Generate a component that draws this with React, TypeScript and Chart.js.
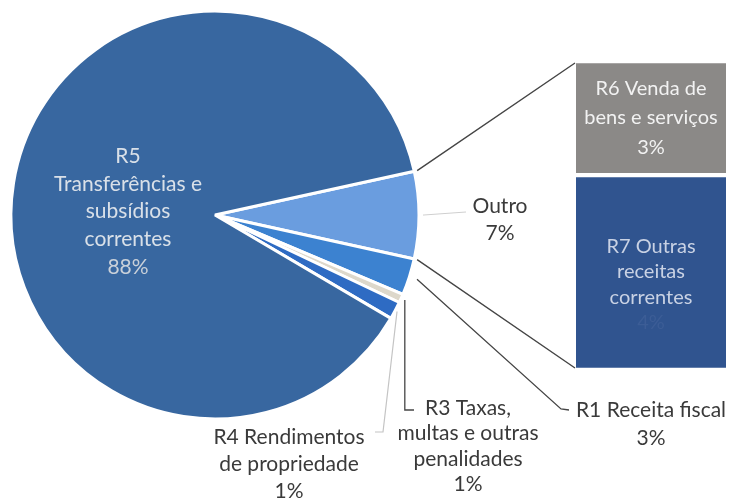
import React, { useEffect, useRef } from 'react';
import { Chart, registerables } from 'chart.js';
Chart.register(...registerables);

// ---- data ----
const barLabels = ['R7 Outras receitas correntes', 'R6 Venda de bens e serviços'];
const barValues = [4.35, 2.55];
const otherLabels = ['R1 Receita fiscal', 'R3 Taxas, multas e outras penalidades', 'R4 Rendimentos de propriedade', 'R5 Transferências e subsídios correntes'];
const otherValues = [2.9, 0.7, 1.4, 88.1];
const outroValue = barValues.reduce((a, b) => a + b, 0);
const pieLabels = ['Outro', ...otherLabels];
const pieValues = [outroValue, ...otherValues];
const pieLabelLines = [
  ['Outro', '7%'],
  ['R1 Receita fiscal', '3%'],
  ['R3 Taxas,', 'multas e outras', 'penalidades', '1%'],
  ['R4 Rendimentos', 'de propriedade', '1%'],
  ['R5', 'Transferências e', 'subsídios', 'correntes', '88%'],
];
const barLabelLines = [
  ['R7 Outras', 'receitas', 'correntes', '4%'],
  ['R6 Venda de', 'bens e serviços', '3%'],
];

// ---- styles ----
const pieColors = ['#6a9ddf', '#3c82d0', '#ddd8cb', '#2e6bc3', '#3867a0'];
const barColors = ['#30548f', '#8b8987'];
const FONT = 'Lato, "Liberation Sans", sans-serif';
const FS = 21;
const BAR_FS = 20;
const BAR_BOX = { left: 576, top: 61, width: 150, height: 309 };

function drawLines(ctx: CanvasRenderingContext2D, lines: string[], x: number, y0: number, step: number, colors: string[] | string, fs = FS) {
  ctx.save();
  ctx.font = `${fs}px ${FONT}`;
  ctx.textAlign = 'center';
  ctx.textBaseline = 'middle';
  lines.forEach((t, i) => {
    ctx.fillStyle = Array.isArray(colors) ? colors[i] : colors;
    ctx.fillText(t, x, y0 + i * step);
  });
  ctx.restore();
}

const piePlugin = {
  id: 'pieOfBarDecor',
  afterDatasetsDraw(chart: any) {
    const ctx: CanvasRenderingContext2D = chart.ctx;
    const arcs = chart.getDatasetMeta(0).data;
    const pt = (a: any, ang: number, r: number) => [a.x + Math.cos(ang) * r, a.y + Math.sin(ang) * r];
    const mid = (a: any) => (a.startAngle + a.endAngle) / 2;
    const R = arcs[0].outerRadius;
    ctx.save();
    // connectors to bar
    ctx.strokeStyle = '#454545';
    ctx.lineWidth = 1.4;
    const o = arcs[0];
    let p = pt(o, o.startAngle, R + 3);
    ctx.beginPath();
    ctx.moveTo(p[0], p[1]);
    ctx.lineTo(BAR_BOX.left - 1, BAR_BOX.top + 2);
    p = pt(o, o.endAngle, R + 3);
    ctx.moveTo(p[0], p[1]);
    ctx.lineTo(BAR_BOX.left - 1, BAR_BOX.top + BAR_BOX.height - 2);
    ctx.stroke();

    // Outro leader
    ctx.strokeStyle = '#cfcfcf';
    ctx.lineWidth = 1;
    p = pt(o, mid(o), R + 4);
    ctx.beginPath();
    ctx.moveTo(p[0], p[1]);
    ctx.lineTo(466, 212);
    ctx.stroke();

    // R1 leader
    ctx.strokeStyle = '#454545';
    ctx.lineWidth = 1.3;
    const a1 = arcs[1];
    p = pt(a1, mid(a1), R + 8);
    ctx.beginPath();
    ctx.moveTo(p[0], p[1]);
    ctx.lineTo(561, 409);
    ctx.lineTo(569, 410);
    ctx.stroke();

    // R3 leader
    const a3 = arcs[2];
    p = pt(a3, mid(a3), R + 4);
    ctx.beginPath();
    ctx.moveTo(p[0], p[1]);
    ctx.lineTo(p[0], 410);
    ctx.lineTo(414, 410);
    ctx.stroke();

    // R4 leader
    ctx.strokeStyle = '#c4c4c4';
    ctx.lineWidth = 1.2;
    const a4 = arcs[3];
    p = pt(a4, mid(a4), R + 2);
    ctx.beginPath();
    ctx.moveTo(p[0], p[1]);
    ctx.lineTo(383, 432);
    ctx.lineTo(375, 432);
    ctx.stroke();
    ctx.restore();

    // labels
    const dark = '#3a3a3a';
    drawLines(ctx, pieLabelLines[0], 500, 206, 27, dark);
    drawLines(ctx, pieLabelLines[1], 651, 410, 28, dark);
    drawLines(ctx, pieLabelLines[2], 468, 408, 25.5, dark);
    drawLines(ctx, pieLabelLines[3], 289, 437, 27, dark);
    drawLines(ctx, pieLabelLines[4], 128, 156, 27.8, ['#d9e0e8', '#d9e0e8', '#d9e0e8', '#d9e0e8', '#c9d0d9']);
  },
};

const barPlugin = {
  id: 'barDecor',
  afterDatasetsDraw(chart: any) {
    const ctx: CanvasRenderingContext2D = chart.ctx;
    const e7 = chart.getDatasetMeta(0).data[0];
    const e6 = chart.getDatasetMeta(1).data[0];
    const c7 = (e7.y + e7.base) / 2;
    const c6 = (e6.y + e6.base) / 2;
    drawLines(ctx, barLabelLines[1], e6.x, c6 - 30, 29.5, '#f2f2f2', BAR_FS);
    drawLines(ctx, barLabelLines[0], e7.x, c7 - 26, 25.3, ['#c9d2e4', '#c9d2e4', '#c9d2e4', '#3c5d96'], BAR_FS);
  },
};

export default function App() {
  const pieRef = useRef<HTMLCanvasElement>(null);
  const barRef = useRef<HTMLCanvasElement>(null);

  useEffect(() => {
    const pie = new Chart(pieRef.current!, {
      type: 'pie',
      data: {
        labels: pieLabels,
        datasets: [{
          data: pieValues,
          backgroundColor: pieColors,
          borderColor: '#ffffff',
          borderWidth: 3,
        }],
      },
      options: {
        animation: false,
        responsive: false,
        rotation: 77.6,
        radius: 204,
        layout: { padding: { left: 12, top: 12, right: 312, bottom: 81 } },
        plugins: { legend: { display: false }, tooltip: { enabled: false } },
      } as any,
      plugins: [piePlugin],
    });
    const total = barValues.reduce((a, b) => a + b, 0);
    const bar = new Chart(barRef.current!, {
      type: 'bar',
      data: {
        labels: [''],
        datasets: barValues.map((v, i) => ({
          label: barLabels[i],
          data: [v],
          backgroundColor: barColors[i],
          borderColor: '#ffffff',
          borderWidth: { top: 2.5, bottom: 2.5, left: 0, right: 0 },
          borderSkipped: false,
          barPercentage: 1,
          categoryPercentage: 1,
        })),
      },
      options: {
        animation: false,
        responsive: false,
        layout: { padding: 0 },
        plugins: { legend: { display: false }, tooltip: { enabled: false } },
        scales: {
          x: { display: false, stacked: true },
          y: { display: false, stacked: true, min: 0, max: total },
        },
      } as any,
      plugins: [barPlugin],
    });
    return () => {
      pie.destroy();
      bar.destroy();
    };
  }, []);

  return (
    <div style={{ position: 'fixed', left: 0, top: 0, width: 730, height: 499, background: '#fff' }}>
      <canvas ref={pieRef} width={730} height={499} style={{ position: 'absolute', left: 0, top: 0, width: 730, height: 499 }} />
      <canvas
        ref={barRef}
        width={BAR_BOX.width}
        height={BAR_BOX.height}
        style={{ position: 'absolute', left: BAR_BOX.left, top: BAR_BOX.top, width: BAR_BOX.width, height: BAR_BOX.height }}
      />
    </div>
  );
}
